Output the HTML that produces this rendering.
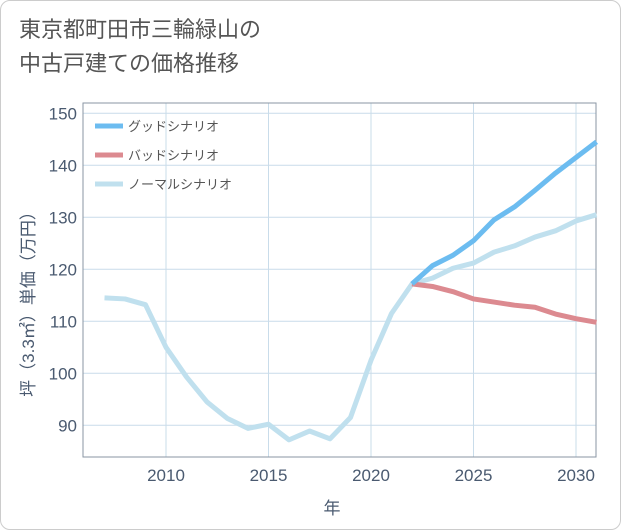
<!DOCTYPE html>
<html><head><meta charset="utf-8">
<style>
body{margin:0;background:#fff;}
#card{position:absolute;left:0;top:0;width:619px;height:528px;border:1px solid #ccc;border-radius:10px;background:#fff;}
#title{position:absolute;left:18px;top:12px;font-family:"Liberation Sans","Noto Sans CJK JP",sans-serif;font-size:22px;line-height:34px;color:#555;}
svg{position:absolute;left:0;top:0;}
text{font-family:"Liberation Sans","Noto Sans CJK JP",sans-serif;}
</style></head><body>
<div id="card">
<div id="title">東京都町田市三輪緑山の<br>中古戸建ての価格推移</div>
</div>
<svg id="chart" width="621" height="530"></svg>
<script>
const years=[2007,2008,2009,2010,2011,2012,2013,2014,2015,2016,2017,2018,2019,2020,2021,2022,2023,2024,2025,2026,2027,2028,2029,2030,2031];
const normalValues=[114.5,114.3,113.2,105,99.3,94.5,91.3,89.4,90.2,87.2,88.9,87.4,91.5,102.5,111.5,117.2,118.3,120.2,121.2,123.3,124.5,126.2,127.4,129.3,130.5];
const futureYears=[2022,2023,2024,2025,2026,2027,2028,2029,2030,2031];
const goodValues=[117.2,120.7,122.7,125.5,129.5,132,135.2,138.5,141.5,144.5];
const badValues=[117.2,116.7,115.7,114.3,113.7,113.1,112.7,111.4,110.5,109.8];
const yTicks=[90,100,110,120,130,140,150];
const xTicks=[2010,2015,2020,2025,2030];
const L=83,R=596,T=103,B=457;
const x=v=>166+(v-2010)*20.5;
const y=v=>113.3+(150-v)*5.2;
const svg=document.getElementById('chart');
const NS='http://www.w3.org/2000/svg';
function mk(tag,attrs){const e=document.createElementNS(NS,tag);for(const k in attrs)e.setAttribute(k,attrs[k]);svg.appendChild(e);return e;}
yTicks.forEach(t=>{
 const g=mk('line',{x1:L,x2:R,y1:y(t),y2:y(t),stroke:'#c9dcea','stroke-width':1});
 
 
 const lb=mk('text',{x:L-6,y:y(t)+6,'text-anchor':'end','font-size':17,fill:'#4a5a70'});
 lb.textContent=t;
 
 
});
xTicks.forEach(t=>{
 const g=mk('line',{x1:x(t),x2:x(t),y1:T,y2:B,stroke:'#c9dcea','stroke-width':1});
 
 
 const lb=mk('text',{x:x(t),y:481,'text-anchor':'middle','font-size':17,fill:'#4a5a70'});
 lb.textContent=t;
 
 
});
const frame=mk('rect',{x:L,y:T,width:R-L,height:B-T,fill:'none',stroke:'#8a96a3','stroke-width':1});


function series(xs,vs,color,name){
 const p=mk('polyline',{points:xs.map((yr,i)=>x(yr)+','+y(vs[i])).join(' '),fill:'none',stroke:color,'stroke-width':5,'stroke-linejoin':'round'});
 
 
}
series(years,normalValues,'#c0e0ee','normal-scenario-line');
series(futureYears,badValues,'#dc8a90','bad-scenario-line');
series(futureYears,goodValues,'#6cbcf0','good-scenario-line');
const leg=[['グッドシナリオ','#6cbcf0'],['バッドシナリオ','#dc8a90'],['ノーマルシナリオ','#c0e0ee']];
leg.forEach((l,i)=>{
 const yy=126+i*29;
 const s=mk('line',{x1:95,x2:123,y1:yy,y2:yy,stroke:l[1],'stroke-width':5});
 
 
 const t=mk('text',{x:128,y:yy+5,'font-size':13,fill:'#555'});
 t.textContent=l[0];
 
 
});
const xt=mk('text',{x:332,y:514,'text-anchor':'middle','font-size':17,fill:'#4a5a70'});
xt.textContent='年';


const yt=mk('text',{x:0,y:0,'text-anchor':'middle','font-size':17,fill:'#4a5a70',transform:'translate(34,300) rotate(-90)'});
yt.textContent='坪（3.3㎡）単価（万円）';


</script>
</body></html>
